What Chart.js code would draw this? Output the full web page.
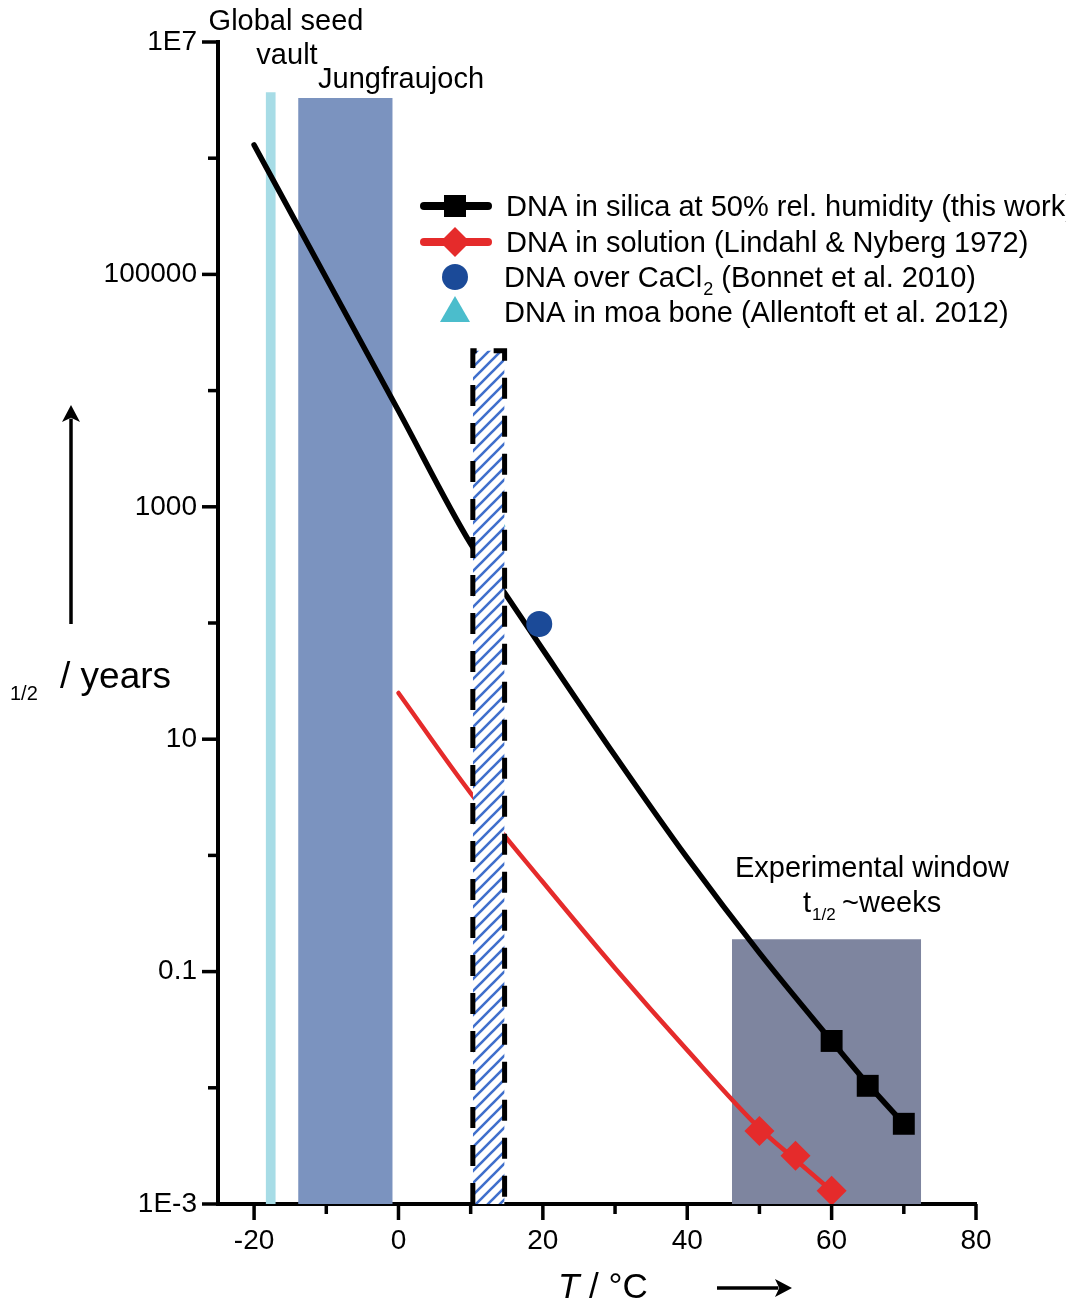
<!DOCTYPE html>
<html>
<head>
<meta charset="utf-8">
<script src="https://cdn.jsdelivr.net/npm/chart.js@4.4.1/dist/chart.umd.min.js"></script>
<style>
  html, body { margin: 0; padding: 0; background: #fff; }
  canvas { display: block; }
</style>
</head>
<body>
<canvas id="chart" width="1066" height="1312"></canvas>
<script>
// Half-life of DNA vs temperature (T in °C, t1/2 in years)

// fitted curve + measured points, DNA in silica at 50% rel. humidity
const silicaFitT = [-20, -10, 0, 10, 15, 20, 30, 40, 50, 60, 65, 70];
const silicaFitYears = [1.3e6, 9.3e4, 6.7e3, 480, 171, 59, 7.2, 0.95, 0.145, 0.0253, 0.0108, 0.0049];
const silicaT = [60, 65, 70];
const silicaYears = [0.0253, 0.0104, 0.0049];

// fitted curve + measured points, DNA in solution
const solutionFitT = [0, 10, 20, 30, 40, 50, 55, 60];
const solutionFitYears = [25, 3.44, 0.59, 0.107, 0.0211, 0.0045, 0.0024, 0.0013];
const solutionT = [50, 55, 60];
const solutionYears = [0.00425, 0.0026, 0.0013];

// single literature points
const cacl2T = [19.5];
const cacl2Years = [98];
const moaT = [12.8];
const moaYears = [800];

// shaded temperature ranges (from / to in °C, top in years)
const regionNames = ['Global seed vault', 'Jungfraujoch', 'Experimental window', 'Hatched range'];
const regionFrom = [-18.4, -13.9, 46.2, 10.3];
const regionTo = [-17.0, -0.8, 72.4, 14.7];
const regionTop = [3.7e6, 3.3e6, 0.19, 2.2e4];

// axes
const xMin = -25, xMax = 80;
const yMin = 1e-3, yMax = 1e7;
const xTickValues = [-20, -10, 0, 10, 20, 30, 40, 50, 60, 70, 80];
const xTickLabels = ['-20', '', '0', '', '20', '', '40', '', '60', '', '80'];
const yTickValues = [1e-3, 1e-2, 0.1, 1, 10, 100, 1e3, 1e4, 1e5, 1e6, 1e7];
const yTickLabels = ['1E-3', '', '0.1', '', '10', '', '1000', '', '100000', '', '1E7'];

const FONT = '"Liberation Sans", Arial, Helvetica, sans-serif';

function points(xs, ys) {
  return xs.map((x, i) => ({ x: x, y: ys[i] }));
}

// outline of a range box, drawn as a filled line down to the axis
function box(i) {
  return [
    { x: regionFrom[i], y: yMin },
    { x: regionFrom[i], y: regionTop[i] },
    { x: regionTo[i], y: regionTop[i] },
    { x: regionTo[i], y: yMin }
  ];
}

// blue diagonal hatch on white
function hatchPattern() {
  const c = document.createElement('canvas');
  c.width = 12;
  c.height = 12;
  const g = c.getContext('2d');
  g.fillStyle = '#fff';
  g.fillRect(0, 0, 12, 12);
  g.strokeStyle = '#3f6fcc';
  g.lineWidth = 2.6;
  g.beginPath();
  g.moveTo(-2, 14); g.lineTo(14, -2);
  g.moveTo(-2, 2); g.lineTo(2, -2);
  g.moveTo(10, 14); g.lineTo(14, 10);
  g.stroke();
  return g.createPattern(c, 'repeat');
}

const plainBox = {
  type: 'line',
  showLine: true,
  fill: 'start',
  borderWidth: 0,
  borderColor: 'rgba(0,0,0,0)',
  pointRadius: 0,
  tension: 0
};

// tick marks: long on labelled ticks, short otherwise
const tickMarks = {
  id: 'tickMarks',
  afterDraw(chart) {
    const ctx = chart.ctx;
    const xs = chart.scales.x, ys = chart.scales.y;
    const area = chart.chartArea;
    ctx.save();
    ctx.strokeStyle = '#000';
    ctx.lineWidth = 3.5;
    xTickValues.forEach((v, i) => {
      const px = xs.getPixelForValue(v);
      const len = xTickLabels[i] ? 16 : 10;
      ctx.beginPath();
      ctx.moveTo(px, area.bottom);
      ctx.lineTo(px, area.bottom + len);
      ctx.stroke();
    });
    yTickValues.forEach((v, i) => {
      const py = ys.getPixelForValue(v);
      const len = yTickLabels[i] ? 16 : 10;
      ctx.beginPath();
      ctx.moveTo(area.left, py);
      ctx.lineTo(area.left - len, py);
      ctx.stroke();
    });
    ctx.restore();
  }
};

function arrow(ctx, x1, y1, x2, y2) {
  const a = Math.atan2(y2 - y1, x2 - x1);
  const head = 17, half = 9;
  ctx.beginPath();
  ctx.moveTo(x1, y1);
  ctx.lineTo(x2 - Math.cos(a) * head * 0.8, y2 - Math.sin(a) * head * 0.8);
  ctx.stroke();
  ctx.beginPath();
  ctx.moveTo(x2, y2);
  ctx.lineTo(x2 - Math.cos(a) * head + Math.sin(a) * half, y2 - Math.sin(a) * head - Math.cos(a) * half);
  ctx.lineTo(x2 - Math.cos(a) * head * 0.75, y2 - Math.sin(a) * head * 0.75);
  ctx.lineTo(x2 - Math.cos(a) * head - Math.sin(a) * half, y2 - Math.sin(a) * head + Math.cos(a) * half);
  ctx.closePath();
  ctx.fill();
}

// labels, axis titles, arrows and legend
const annotate = {
  id: 'annotate',
  afterDraw(chart) {
    const ctx = chart.ctx;
    ctx.save();
    ctx.fillStyle = '#000';
    ctx.strokeStyle = '#000';
    ctx.textBaseline = 'alphabetic';

    ctx.font = '29px ' + FONT;
    ctx.textAlign = 'center';
    ctx.fillText('Global seed', 286, 30);
    ctx.fillText('vault', 287, 64);
    ctx.fillText('Experimental window', 872, 877);
    ctx.textAlign = 'left';
    ctx.fillText('Jungfraujoch', 318, 88);

    // t1/2 ~weeks
    ctx.fillText('t', 803, 912);
    ctx.fillText('~weeks', 842, 912);
    ctx.font = '17px ' + FONT;
    ctx.fillText('1/2', 812, 920);

    // y title
    ctx.font = '20px ' + FONT;
    ctx.fillText('1/2', 10, 700);
    ctx.font = '37px ' + FONT;
    ctx.fillText('/ years', 60, 688);

    // x title
    ctx.font = 'italic 35px ' + FONT;
    ctx.fillText('T', 558, 1298);
    const tw = ctx.measureText('T').width;
    ctx.font = '35px ' + FONT;
    ctx.fillText(' / \u00b0C', 558 + tw, 1298);

    ctx.lineWidth = 3.5;
    arrow(ctx, 71, 624, 71, 405);
    arrow(ctx, 717, 1288, 792, 1288);

    // legend
    const lx = 455, tx = 506;
    const rows = [206, 242, 277, 312];
    ctx.lineCap = 'round';
    ctx.lineWidth = 8;
    ctx.strokeStyle = '#000';
    ctx.beginPath(); ctx.moveTo(424, rows[0]); ctx.lineTo(488, rows[0]); ctx.stroke();
    ctx.fillStyle = '#000';
    ctx.fillRect(lx - 11, rows[0] - 11, 22, 22);
    ctx.strokeStyle = '#e52b2b';
    ctx.beginPath(); ctx.moveTo(424, rows[1]); ctx.lineTo(488, rows[1]); ctx.stroke();
    ctx.fillStyle = '#e52b2b';
    ctx.beginPath();
    ctx.moveTo(lx, rows[1] - 15); ctx.lineTo(lx + 15, rows[1]);
    ctx.lineTo(lx, rows[1] + 15); ctx.lineTo(lx - 15, rows[1]);
    ctx.closePath(); ctx.fill();
    ctx.fillStyle = '#1b4a98';
    ctx.beginPath(); ctx.arc(lx, rows[2], 13, 0, Math.PI * 2); ctx.fill();
    ctx.fillStyle = '#4bbdcc';
    ctx.beginPath();
    ctx.moveTo(lx, rows[3] - 16); ctx.lineTo(lx + 15, rows[3] + 10);
    ctx.lineTo(lx - 15, rows[3] + 10);
    ctx.closePath(); ctx.fill();

    ctx.fillStyle = '#000';
    ctx.font = '29px ' + FONT;
    ctx.fillText('DNA in silica at 50% rel. humidity (this work)', tx, rows[0] + 10);
    ctx.fillText('DNA in solution (Lindahl & Nyberg 1972)', tx, rows[1] + 10);
    const s1 = 'DNA over CaCl';
    ctx.fillText(s1, tx - 2, rows[2] + 10);
    const w1 = ctx.measureText(s1).width;
    ctx.font = '18px ' + FONT;
    ctx.fillText('2', tx - 2 + w1 + 1, rows[2] + 18);
    ctx.font = '29px ' + FONT;
    ctx.fillText(' (Bonnet et al. 2010)', tx - 2 + w1 + 11, rows[2] + 10);
    ctx.fillText('DNA in moa bone (Allentoft et al. 2012)', tx - 2, rows[3] + 10);
    ctx.restore();
  }
};

const data = {
  datasets: [
    Object.assign({}, plainBox, {
      label: regionNames[3],
      data: box(3),
      backgroundColor: hatchPattern(),
      borderColor: '#000',
      borderWidth: 5,
      borderDash: [21, 17],
      order: 0
    }),
    {
      label: 'DNA in moa bone (Allentoft et al. 2012)',
      data: points(moaT, moaYears),
      pointStyle: 'triangle',
      pointRadius: 17,
      backgroundColor: '#4bbdcc',
      borderWidth: 0,
      order: 1
    },
    {
      label: 'DNA over CaCl2 (Bonnet et al. 2010)',
      data: points(cacl2T, cacl2Years),
      pointStyle: 'circle',
      pointRadius: 13,
      backgroundColor: '#1b4a98',
      borderWidth: 0,
      order: 2
    },
    {
      label: 'DNA in silica (measured)',
      data: points(silicaT, silicaYears),
      pointStyle: 'rect',
      pointRadius: 15.5,
      backgroundColor: '#000',
      borderWidth: 0,
      order: 3
    },
    {
      label: 'DNA in solution (measured)',
      data: points(solutionT, solutionYears),
      pointStyle: 'rectRot',
      pointRadius: 15,
      backgroundColor: '#e52b2b',
      borderWidth: 0,
      order: 4
    },
    {
      type: 'line',
      label: 'DNA in silica at 50% rel. humidity (this work)',
      data: points(silicaFitT, silicaFitYears),
      showLine: true,
      borderColor: '#000',
      borderWidth: 5.5,
      borderCapStyle: 'round',
      cubicInterpolationMode: 'monotone',
      pointRadius: 0,
      fill: false,
      order: 5
    },
    {
      type: 'line',
      label: 'DNA in solution (Lindahl & Nyberg 1972)',
      data: points(solutionFitT, solutionFitYears),
      showLine: true,
      borderColor: '#e52b2b',
      borderWidth: 4.5,
      borderCapStyle: 'round',
      cubicInterpolationMode: 'monotone',
      pointRadius: 0,
      fill: false,
      order: 6
    },
    Object.assign({}, plainBox, { label: regionNames[2], data: box(2), backgroundColor: '#7e859f', order: 7 }),
    Object.assign({}, plainBox, { label: regionNames[1], data: box(1), backgroundColor: '#7b93bf', order: 8 }),
    Object.assign({}, plainBox, { label: regionNames[0], data: box(0), backgroundColor: '#a7dce6', order: 9 })
  ]
};

new Chart(document.getElementById('chart'), {
  type: 'scatter',
  data: data,
  options: {
    responsive: false,
    animation: false,
    layout: { padding: { top: 42, right: 90, left: 0, bottom: 0 } },
    plugins: {
      legend: { display: false },
      tooltip: { enabled: false }
    },
    scales: {
      x: {
        type: 'linear',
        min: xMin,
        max: xMax,
        afterBuildTicks: (scale) => { scale.ticks = xTickValues.map(v => ({ value: v })); },
        afterFit: (scale) => { scale.height = 108; },
        grid: { display: false, drawTicks: false },
        border: { display: true, color: '#000', width: 4 },
        ticks: {
          autoSkip: false,
          maxRotation: 0,
          padding: 20,
          color: '#000',
          font: { family: FONT, size: 28 },
          callback: (v) => xTickLabels[xTickValues.indexOf(v)] || ''
        }
      },
      y: {
        type: 'logarithmic',
        min: yMin,
        max: yMax,
        afterBuildTicks: (scale) => { scale.ticks = yTickValues.map(v => ({ value: v })); },
        afterFit: (scale) => { scale.width = 218; },
        grid: { display: false, drawTicks: false },
        border: { display: true, color: '#000', width: 4 },
        ticks: {
          autoSkip: false,
          padding: 21,
          color: '#000',
          font: { family: FONT, size: 28 },
          callback: (v) => {
            const i = yTickValues.findIndex(t => Math.abs(Math.log10(t) - Math.log10(v)) < 1e-6);
            return i >= 0 ? yTickLabels[i] : '';
          }
        }
      }
    }
  },
  plugins: [tickMarks, annotate]
});
</script>
</body>
</html>
